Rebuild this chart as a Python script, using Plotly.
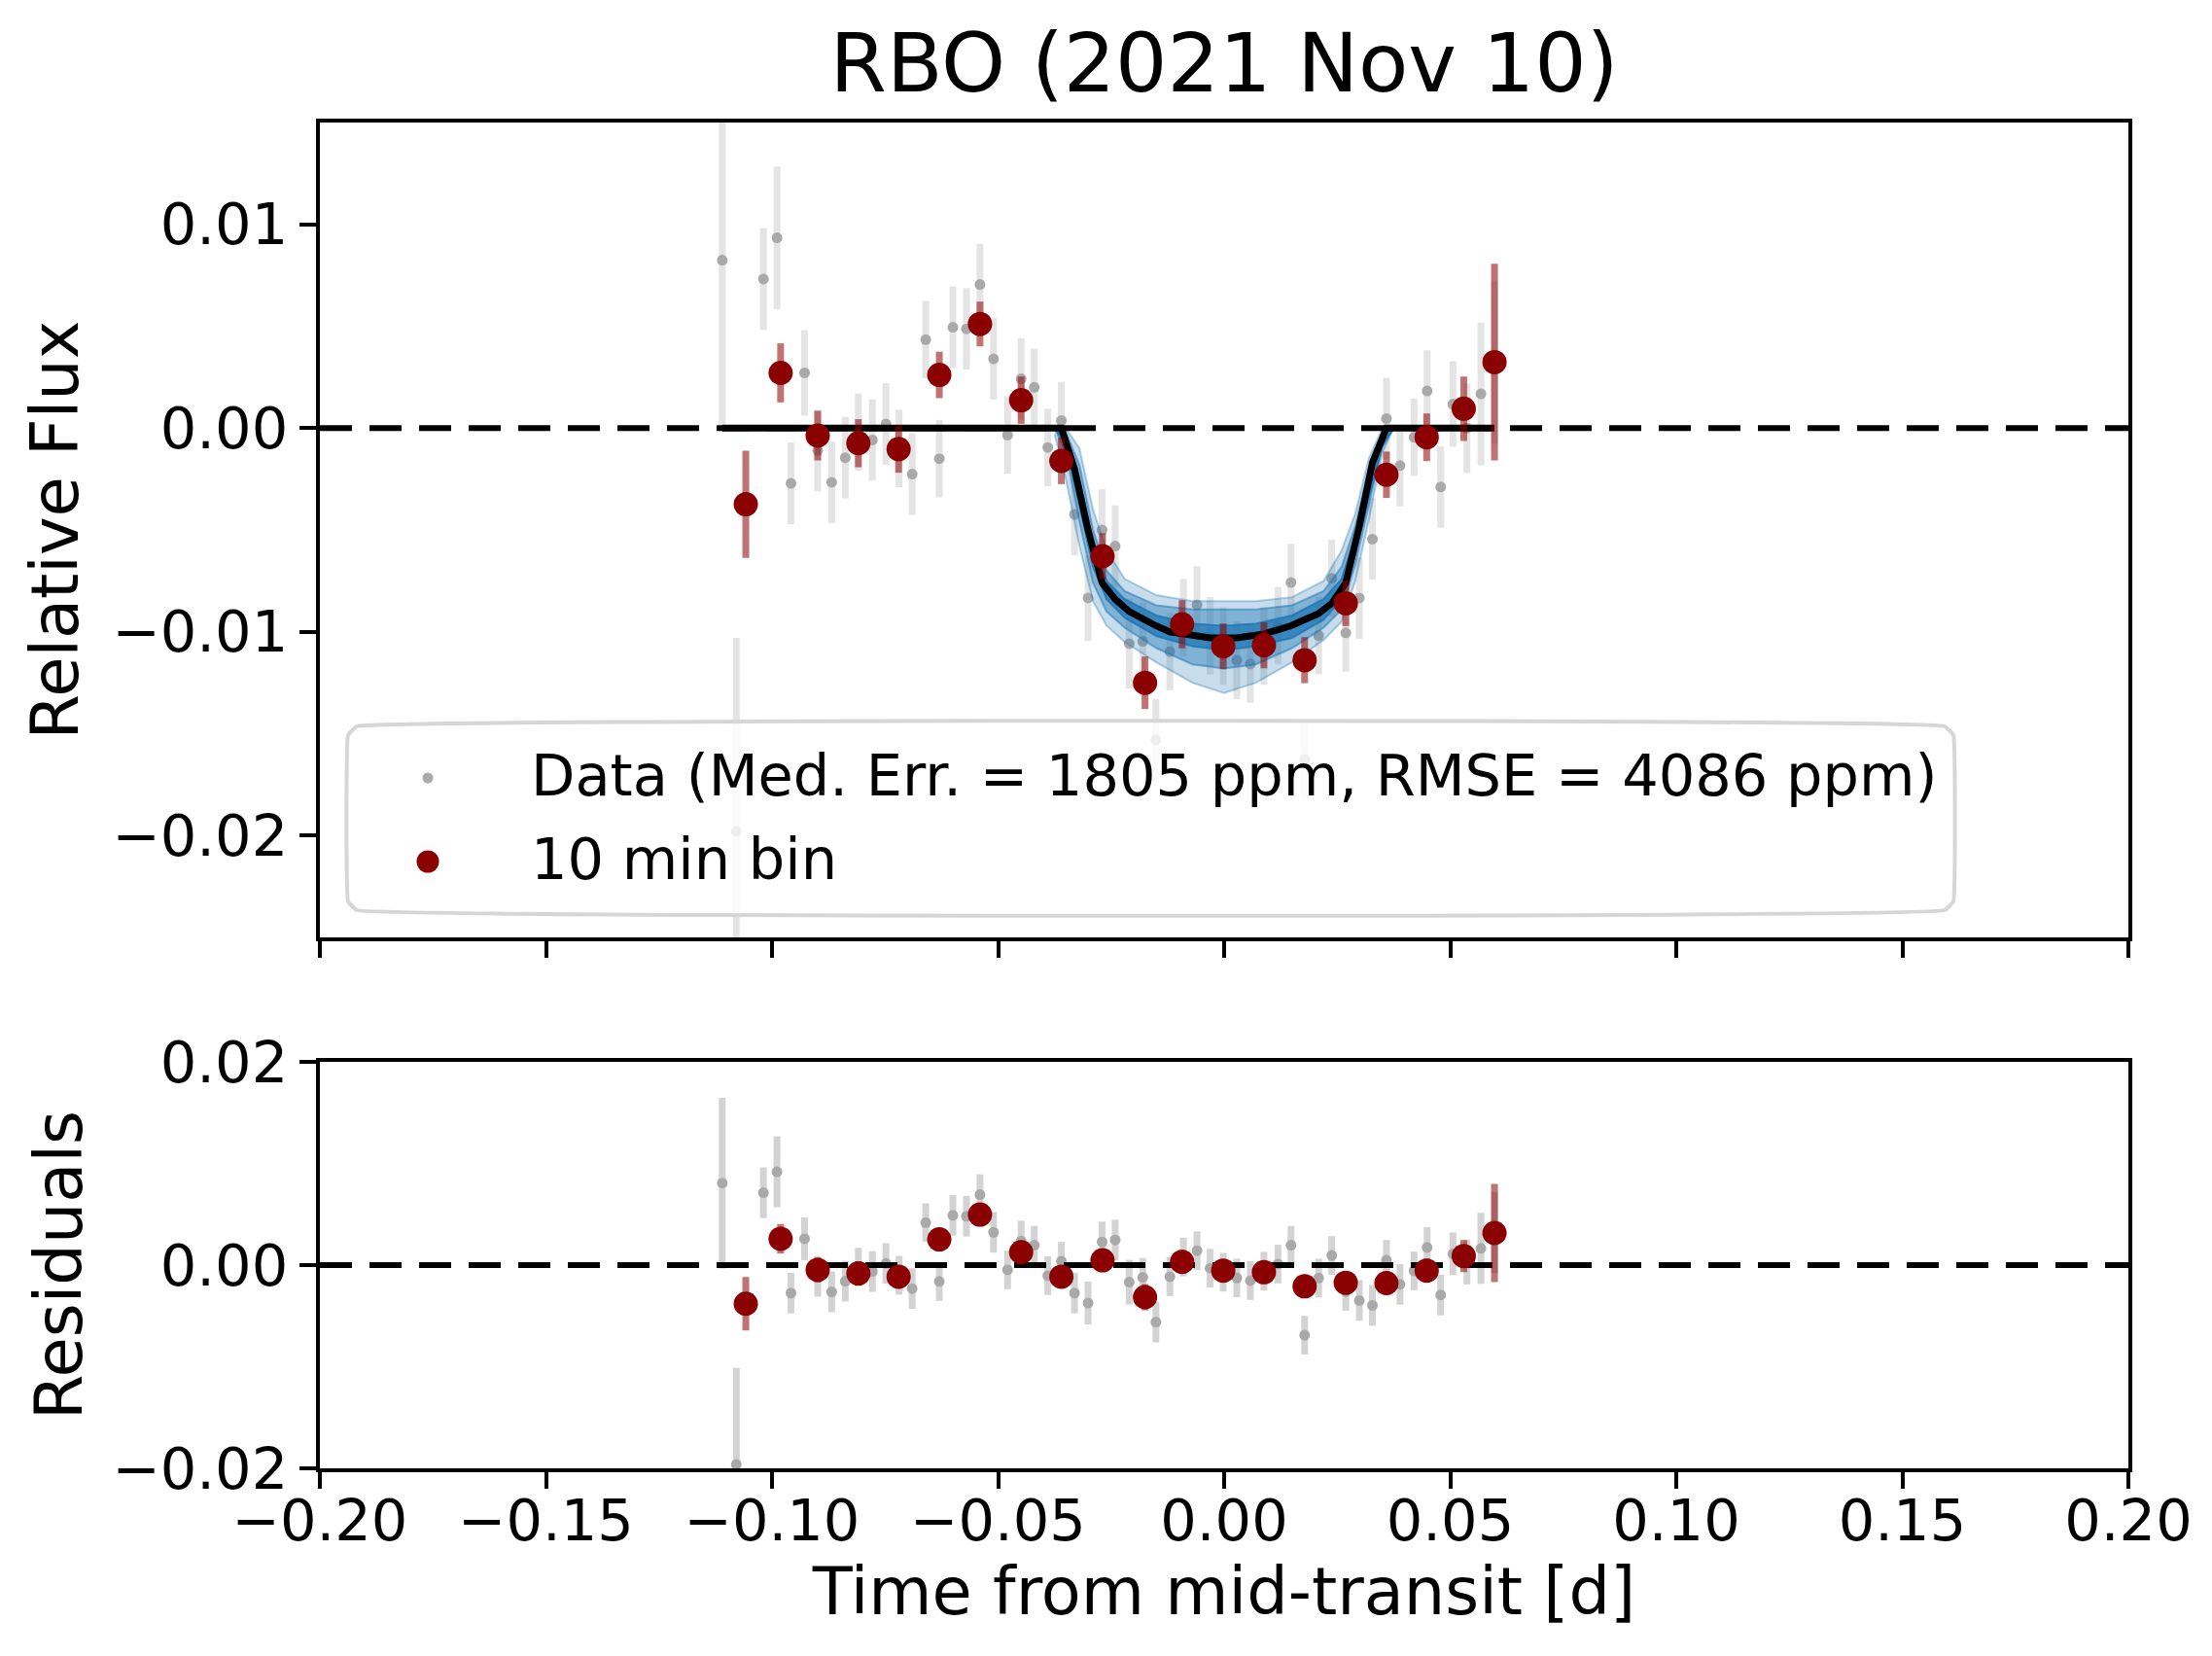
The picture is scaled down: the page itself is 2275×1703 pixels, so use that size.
import plotly.graph_objects as go

# unbinned data (grey)
time = [-0.1110, -0.1079, -0.1019, -0.0989, -0.0958, -0.0928, -0.0899, -0.0868, -0.0838, -0.0809,
        -0.0778, -0.0748, -0.0719, -0.0690, -0.0660, -0.0630, -0.0600, -0.0570, -0.0540, -0.0510,
        -0.0479, -0.0449, -0.0420, -0.0390, -0.0360, -0.0331, -0.0301, -0.0270, -0.0241, -0.0210,
        -0.0180, -0.0151, -0.0120, -0.0090, -0.0060, -0.0031, -0.0002, 0.0028, 0.0058, 0.0088,
        0.0119, 0.0148, 0.0178, 0.0209, 0.0238, 0.0269, 0.0299, 0.0328, 0.0359, 0.0389,
        0.0420, 0.0449, 0.0479, 0.0506, 0.0537, 0.0568, 0.0598]
flux = [0.00824, -0.0198, 0.00732, 0.00934, -0.00271, 0.00271, -0.0011, -0.00266, -0.00145, -0.0002,
        -0.00058, 0.0002, -0.0010, -0.00226, 0.00434, -0.0015, 0.00495, 0.00487, 0.00705, 0.0034,
        -0.00034, 0.00242, 0.0020, -0.00095, 0.00037, -0.00424, -0.00834, -0.0050, -0.00579, -0.01058,
        -0.01047, -0.0153, -0.01097, -0.0093, -0.00868, -0.0102, -0.0107, -0.0114, -0.01158, -0.0107,
        -0.0097, -0.00758, -0.01626, -0.01018, -0.00737, -0.01005, -0.00834, -0.00545, 0.00047, -0.00184,
        -0.00045, 0.00182, -0.00289, 0.00118, 0.0, 0.00168, 0.00324]
flux_err = [0.0084, 0.0095, 0.0025, 0.0035, 0.0020, 0.0021, 0.0020, 0.0020, 0.0020, 0.0019,
            0.0020, 0.0020, 0.0019, 0.0020, 0.0019, 0.0019, 0.0020, 0.0020, 0.0020, 0.0020,
            0.0019, 0.0020, 0.0019, 0.0019, 0.0019, 0.0020, 0.0021, 0.0020, 0.0020, 0.0022,
            0.0019, 0.0020, 0.0019, 0.0019, 0.0019, 0.0019, 0.0019, 0.0019, 0.0019, 0.0019,
            0.0019, 0.0019, 0.0019, 0.0019, 0.0019, 0.0019, 0.0020, 0.0020, 0.0020, 0.0020,
            0.0019, 0.0020, 0.0020, 0.0021, 0.0022, 0.0035, 0.0040]
resid = [0.00807, -0.01962, 0.00712, 0.00918, -0.00275, 0.00259, -0.0011, -0.00263, -0.00158, -0.0002,
         -0.00063, 0.00016, -0.0010, -0.00231, 0.00418, -0.00161, 0.0049, 0.00481, 0.00693, 0.00323,
         -0.00047, 0.00237, 0.00196, -0.00104, 0.00038, -0.00275, -0.00373, 0.00228, 0.00247, -0.00168,
         -0.0012, -0.0056, -0.00114, 0.0008, 0.00142, -0.0003, -0.0007, -0.00127, -0.00152, -0.0006,
         0.0001, 0.00196, -0.0069, -0.00127, 0.00095, -0.0026, -0.00348, -0.00396, 0.00047, -0.0019,
         -0.00057, 0.00174, -0.00294, 0.00111, 0.0003, 0.00165, 0.0032]

# 10 min bins (dark red)
bin_time = [-0.1058, -0.0981, -0.0899, -0.0809, -0.0720, -0.0630, -0.0540, -0.0449, -0.0360, -0.0269,
            -0.0175, -0.0093, -0.0002, 0.0088, 0.0178, 0.0269, 0.0359, 0.0448, 0.0530, 0.0598]
bin_flux = [-0.00374, 0.00271, -0.00037, -0.00074, -0.00103, 0.00261, 0.00511, 0.00137, -0.00161, -0.00629,
            -0.0125, -0.00963, -0.01071, -0.01066, -0.01139, -0.0086, -0.00229, -0.00045, 0.00095, 0.00324]
bin_err = [0.00263, 0.00145, 0.00122, 0.00118, 0.00116, 0.00114, 0.0011, 0.00116, 0.00114, 0.00113,
           0.00129, 0.00118, 0.00112, 0.00113, 0.00113, 0.00112, 0.00114, 0.00117, 0.00158, 0.00483]
bin_resid = [-0.0038, 0.00259, -0.00047, -0.00082, -0.00114, 0.00253, 0.00497, 0.00127, -0.00114, 0.00047,
             -0.00316, 0.00032, -0.00054, -0.0007, -0.00209, -0.00174, -0.00177, -0.00054, 0.00089, 0.00316]

# best-fit model (black)
model_time = [-0.1110, -0.0360, -0.0331, -0.0301, -0.0270, -0.0241, -0.0210, -0.0180, -0.0151, -0.0120,
              -0.0090, -0.0060, -0.0031, -0.0002, 0.0028, 0.0058, 0.0088, 0.0119, 0.0148, 0.0178,
              0.0209, 0.0238, 0.0269, 0.0299, 0.0328, 0.0359, 0.0598]
model_flux = [0, 0, -0.0020, -0.0050, -0.0076, -0.0084, -0.0090, -0.0094, -0.0097, -0.0100,
              -0.0101, -0.0102, -0.0103, -0.0103, -0.0103, -0.0102, -0.0101, -0.0099, -0.0097, -0.0094,
              -0.0091, -0.0086, -0.0076, -0.0048, -0.0017, 0, 0]

# posterior model spread (blue bands, outer -> inner)
band_time = [-0.0375, -0.035, -0.032, -0.029, -0.026, -0.022, -0.015, -0.007, 0.0,
             0.007, 0.015, 0.022, 0.026, 0.029, 0.032, 0.035, 0.0375]
band1_hi = [0, 0, -0.0010, -0.0040, -0.0060, -0.0074, -0.0082, -0.0085, -0.0085,
            -0.0085, -0.0083, -0.0075, -0.0060, -0.0042, -0.0015, 0, 0]
band1_lo = [-0.0003, -0.0025, -0.0058, -0.0085, -0.0097, -0.0105, -0.0115, -0.0125, -0.0130,
            -0.0125, -0.0115, -0.0104, -0.0095, -0.0075, -0.0045, -0.0012, 0]
band2_hi = [0, -0.0002, -0.0018, -0.0050, -0.0070, -0.0080, -0.0087, -0.0089, -0.0089,
            -0.0089, -0.0087, -0.0080, -0.0068, -0.0048, -0.0020, -0.0002, 0]
band2_lo = [0, -0.0012, -0.0046, -0.0076, -0.0090, -0.0098, -0.0108, -0.0116, -0.0118,
            -0.0116, -0.0108, -0.0098, -0.0089, -0.0067, -0.0038, -0.0008, 0]
band3_hi = [0, -0.0003, -0.0025, -0.0057, -0.0075, -0.0084, -0.0092, -0.0096, -0.0097,
            -0.0096, -0.0092, -0.0084, -0.0074, -0.0053, -0.0025, -0.0003, 0]
band3_lo = [0, -0.0008, -0.0038, -0.0068, -0.0084, -0.0093, -0.0102, -0.0107, -0.0109,
            -0.0107, -0.0103, -0.0094, -0.0084, -0.0062, -0.0034, -0.0009, 0]

xticks = [-0.2, -0.15, -0.1, -0.05, 0.0, 0.05, 0.1, 0.15, 0.2]
xtick_text = ['\u22120.20', '\u22120.15', '\u22120.10', '\u22120.05', '0.00', '0.05', '0.10', '0.15', '0.20']
yticks_top = [0.01, 0.0, -0.01, -0.02]
ytick_text_top = ['0.01', '0.00', '\u22120.01', '\u22120.02']
yticks_bot = [0.02, 0.0, -0.02]
ytick_text_bot = ['0.02', '0.00', '\u22120.02']

legend_labels = ['Data (Med. Err. = 1805 ppm, RMSE = 4086 ppm)', '10 min bin']

FONT = 'DejaVu Sans'
grey = '#a9a9a9'
red = '#8b0000'
W, H = 2275, 1703
L, R, T, B = 321, 94, 118, 201

fig = go.Figure()

# top panel
fig.add_trace(go.Scatter(x=time, y=flux, mode='markers', xaxis='x', yaxis='y',
                         marker=dict(color=grey, size=11), showlegend=False,
                         error_y=dict(type='data', array=flux_err, color='#e4e4e4', thickness=7, width=0)))

for hi, lo, a in [(band1_hi, band1_lo, 0.25), (band2_hi, band2_lo, 0.42), (band3_hi, band3_lo, 0.75)]:
    fig.add_trace(go.Scatter(x=band_time + band_time[::-1], y=hi + lo[::-1], xaxis='x', yaxis='y',
                             mode='lines', fill='toself', fillcolor='rgba(31,119,180,%s)' % a,
                             line=dict(color='rgba(31,119,180,%s)' % min(1, a + 0.1), width=2),
                             showlegend=False, hoverinfo='skip'))

fig.add_trace(go.Scatter(x=model_time, y=model_flux, mode='lines', xaxis='x', yaxis='y',
                         line=dict(color='black', width=7), showlegend=False))
fig.add_trace(go.Scatter(x=[-0.2, 0.2], y=[0, 0], mode='lines', xaxis='x', yaxis='y',
                         line=dict(color='black', width=6, dash='33px,18px'), showlegend=False))
fig.add_trace(go.Scatter(x=bin_time, y=bin_flux, mode='markers', xaxis='x', yaxis='y',
                         marker=dict(color=red, size=25), showlegend=False,
                         error_y=dict(type='data', array=bin_err, color='rgba(139,0,0,0.55)',
                                      thickness=7, width=0)))

# residual panel
fig.add_trace(go.Scatter(x=time, y=resid, mode='markers', xaxis='x2', yaxis='y2',
                         marker=dict(color=grey, size=11), showlegend=False,
                         error_y=dict(type='data', array=flux_err, color='#d3d3d3', thickness=7, width=0)))
fig.add_trace(go.Scatter(x=[-0.2, 0.2], y=[0, 0], mode='lines', xaxis='x2', yaxis='y2',
                         line=dict(color='black', width=6, dash='33px,18px'), showlegend=False))
fig.add_trace(go.Scatter(x=bin_time, y=bin_resid, mode='markers', xaxis='x2', yaxis='y2',
                         marker=dict(color=red, size=25), showlegend=False,
                         error_y=dict(type='data', array=bin_err, color='rgba(139,0,0,0.55)',
                                      thickness=7, width=0)))

# legend drawn by hand on an overlay axis in figure pixels (plotly caps legend marker size)
bx0, bx1, by0, by1, rad = 350, 2001, 739, 928, 9
box_x = [bx0 + rad, bx1 - rad, bx1, bx1, bx1 - rad, bx0 + rad, bx0, bx0, bx0 + rad]
box_y = [by0, by0, by0 + rad, by1 - rad, by1, by1, by1 - rad, by0 + rad, by0]
fig.add_trace(go.Scatter(x=box_x, y=box_y, xaxis='x3', yaxis='y3', mode='lines', fill='toself',
                         fillcolor='rgba(255,255,255,0.8)', line=dict(color='#d6d6d6', width=4, shape='spline', smoothing=0.25),
                         showlegend=False, hoverinfo='skip'))
fig.add_trace(go.Scatter(x=[432], y=[792], xaxis='x3', yaxis='y3', mode='markers',
                         marker=dict(color=grey, size=11), showlegend=False, hoverinfo='skip'))
fig.add_trace(go.Scatter(x=[432], y=[878], xaxis='x3', yaxis='y3', mode='markers',
                         marker=dict(color=red, size=23), showlegend=False, hoverinfo='skip'))
for lab, ty in zip(legend_labels, [789, 875]):
    fig.add_annotation(x=536, y=ty, xref='x3', yref='y3', text=lab, showarrow=False,
                       xanchor='left', yanchor='middle', font=dict(size=59, family=FONT, color='black'))

axis_common = dict(showline=True, linecolor='black', linewidth=4, mirror=True,
                   ticks='outside', ticklen=17, tickwidth=4, tickcolor='black',
                   showgrid=False, zeroline=False, tickfont=dict(size=59, color='black', family=FONT))

fig.update_layout(
    width=W, height=H,
    paper_bgcolor='white', plot_bgcolor='rgba(0,0,0,0)',
    font=dict(family=FONT, color='black'),
    margin=dict(l=L, r=R, t=T, b=B),
    showlegend=False,
    title=dict(text='RBO (2021 Nov 10)', x=0.5, xanchor='center', y=0.967, yanchor='middle',
               xref='paper', yref='container', font=dict(size=84, family=FONT, color='black')),
    xaxis=dict(domain=[0, 1], anchor='y', range=[-0.2, 0.2], tickvals=xticks, ticktext=xtick_text,
               showticklabels=False, **axis_common),
    yaxis=dict(domain=[0.3945, 1], anchor='x', range=[-0.025, 0.015], tickvals=yticks_top,
               ticktext=ytick_text_top, title=dict(text='Relative Flux', font=dict(size=67), standoff=14),
               **axis_common),
    xaxis2=dict(domain=[0, 1], anchor='y2', range=[-0.2, 0.2], tickvals=xticks, ticktext=xtick_text,
                title=dict(text='Time from mid-transit [d]', font=dict(size=67), standoff=16),
                **axis_common),
    yaxis2=dict(domain=[0, 0.302], anchor='x2', range=[-0.02, 0.02], tickvals=yticks_bot,
                ticktext=ytick_text_bot, title=dict(text='Residuals', font=dict(size=67), standoff=10),
                **axis_common),
    xaxis3=dict(domain=[0, 1], anchor='y3', range=[L, W - R], visible=False, fixedrange=True),
    yaxis3=dict(domain=[0, 1], anchor='x3', range=[H - B, T], visible=False, fixedrange=True),
)

# pull the x tick labels a little closer to the axis, if this plotly supports it
try:
    fig.update_layout(xaxis2_ticklabelstandoff=-18)
except ValueError:
    pass

fig.write_html('out.html')
